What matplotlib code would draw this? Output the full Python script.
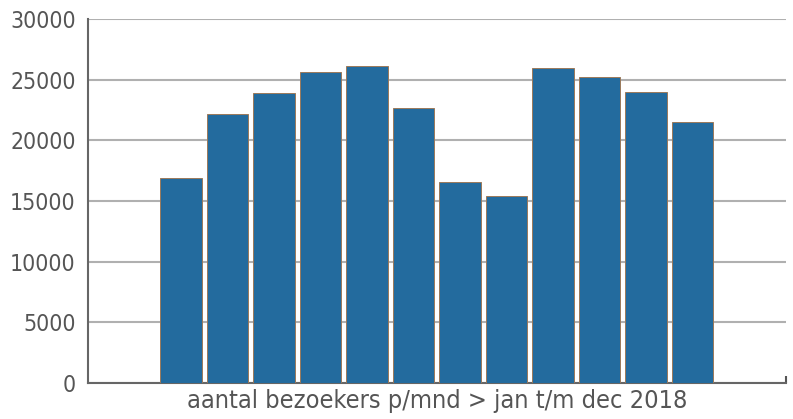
import matplotlib
matplotlib.use("Agg")
import matplotlib.pyplot as plt

months = ["jan", "feb", "mrt", "apr", "mei", "jun", "jul", "aug", "sep", "okt", "nov", "dec"]
visitors = [16900, 22200, 23900, 25600, 26100, 22700, 16600, 15400, 26000, 25200, 24000, 21500]
y_ticks = [0, 5000, 10000, 15000, 20000, 25000, 30000]
x_label = "aantal bezoekers p/mnd > jan t/m dec 2018"

plt.rcParams['font.family'] = ['DejaVu Sans']
plt.rcParams['font.stretch'] = 'condensed'
W, H = 793, 419
fig = plt.figure(figsize=(W / 100, H / 100), dpi=100)
ax = fig.add_axes([88 / W, (H - 383) / H, (786 - 88) / W, (383 - 19) / H])

x = list(range(len(months)))
ax.bar(x, visitors, width=0.9, color="#236b9e", edgecolor="#9c7a5b", linewidth=0.7, zorder=3)

ax.set_xlim(-2, 13.01)
ax.set_ylim(0, 30000)
ax.set_yticks(y_ticks)
ax.set_yticklabels([str(v) for v in y_ticks], fontsize=16.5, color="#555555", fontstretch='condensed')
ax.yaxis.grid(True, color="#b0b0b0", linewidth=1.5, zorder=0)
ax.set_axisbelow(True)
ax.tick_params(axis='y', length=0, pad=9)
ax.set_xticks([13.01])
ax.set_xticklabels([""])
ax.tick_params(axis='x', direction='in', length=5, width=1.5, color="#555555")

for s in ["top", "right"]:
    ax.spines[s].set_visible(False)
for s in ["left", "bottom"]:
    ax.spines[s].set_color("#666666")
    ax.spines[s].set_linewidth(1.5)

ax.set_xlabel(x_label, fontsize=18.2, color="#555555", labelpad=1, fontstretch='condensed')

fig.savefig("out.png", dpi=100)
